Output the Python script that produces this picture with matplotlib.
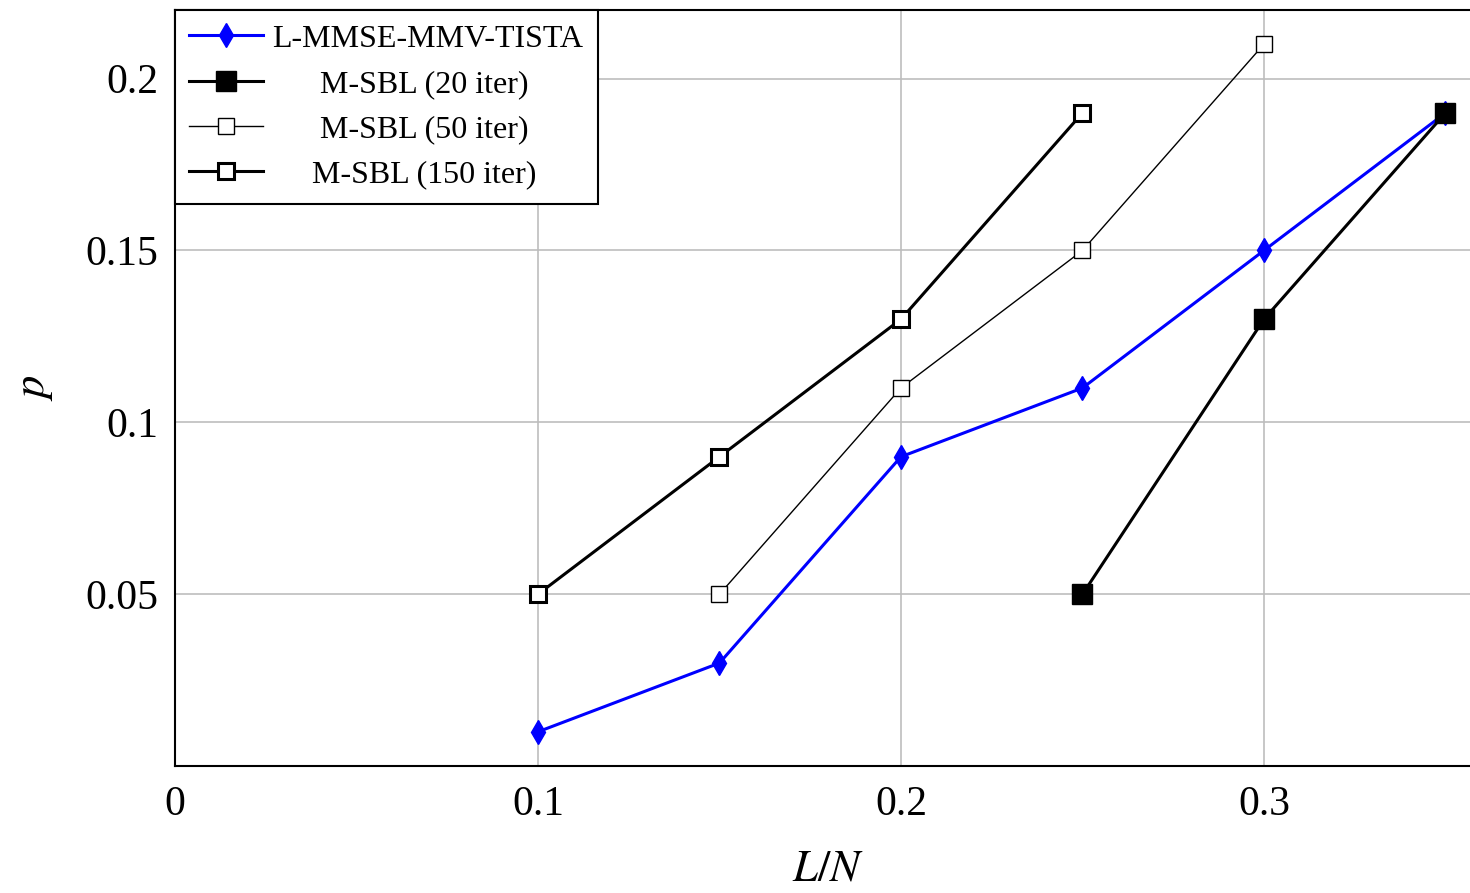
import numpy as np
import matplotlib
matplotlib.use('Agg')
from matplotlib import pyplot as plt

plt.rcParams['font.family'] = ['Liberation Serif', 'DejaVu Serif']
plt.rcParams['mathtext.fontset'] = 'stix'

# Data
x_tista = [0.10, 0.15, 0.20, 0.25, 0.30, 0.35]
p_tista = [0.01, 0.03, 0.09, 0.11, 0.15, 0.19]

x_sbl20 = [0.25, 0.30, 0.35]
p_sbl20 = [0.05, 0.13, 0.19]

x_sbl50 = [0.15, 0.20, 0.25, 0.30]
p_sbl50 = [0.05, 0.11, 0.15, 0.21]

x_sbl150 = [0.10, 0.15, 0.20, 0.25]
p_sbl150 = [0.05, 0.09, 0.13, 0.19]

xticks = [0, 0.1, 0.2, 0.3]
xtick_labels = ['0', '0.1', '0.2', '0.3']
yticks = [0.05, 0.1, 0.15, 0.2]
ytick_labels = ['0.05', '0.1', '0.15', '0.2']

fig = plt.figure(figsize=(14.7, 8.93), dpi=100)
ax = fig.add_axes([0.119, 0.142, 0.889, 0.847])

ax.plot(x_tista, p_tista, color='#0000ff', lw=2.2, marker='d', ms=12,
        label='L-MMSE-MMV-TISTA', zorder=3)
ax.plot(x_sbl20, p_sbl20, color='black', lw=2.2, marker='s', ms=14,
        mfc='black', label='      M-SBL (20 iter)', zorder=4)
ax.plot(x_sbl50, p_sbl50, color='black', lw=1.0, marker='s', ms=12,
        mfc='white', mew=1.0, label='      M-SBL (50 iter)', zorder=3)
ax.plot(x_sbl150, p_sbl150, color='black', lw=2.2, marker='s', ms=12,
        mfc='white', mew=2.2, label='     M-SBL (150 iter)', zorder=3)

ax.set_xlim(0, 0.36)
ax.set_ylim(0, 0.22)
ax.set_xticks(xticks)
ax.set_xticklabels(xtick_labels)
ax.set_yticks(yticks)
ax.set_yticklabels(ytick_labels)
ax.tick_params(labelsize=30, length=0, pad=14)
ax.tick_params(axis='y', pad=12)
ax.grid(color='#bdbdbd', lw=1.2)
ax.set_axisbelow(True)
for s in ax.spines.values():
    s.set_linewidth(1.5)

ax.set_xlabel('$L/N$', fontsize=32, labelpad=18)
ax.set_ylabel('$p$', fontsize=32, labelpad=22)

leg = ax.legend(loc='upper left', fontsize=23, frameon=True, fancybox=False,
                edgecolor='black', framealpha=1, borderaxespad=0,
                handlelength=2.3, labelspacing=0.5, handletextpad=0.3,
                borderpad=0.45)
leg.get_frame().set_linewidth(1.5)

plt.savefig('out.png', dpi=100)
